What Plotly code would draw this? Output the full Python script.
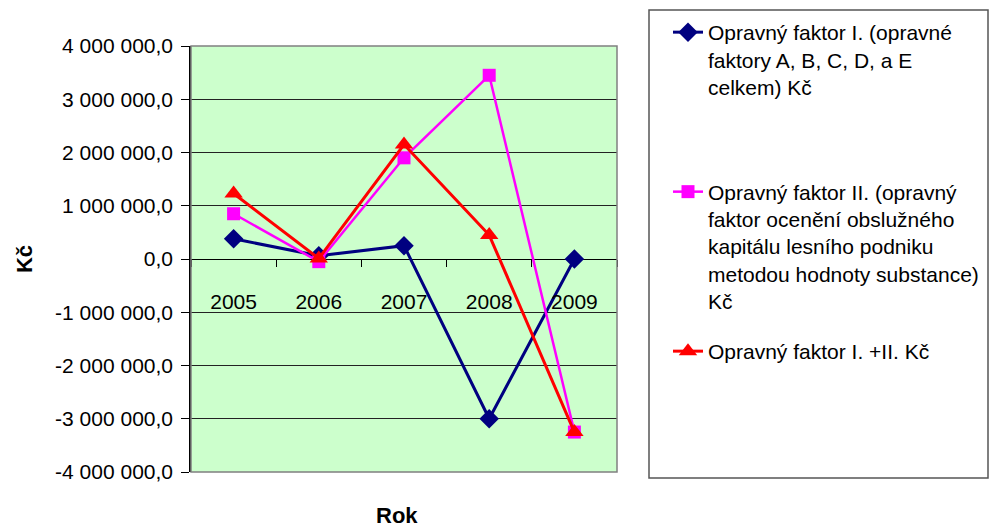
import plotly.graph_objects as go

years = ["2005", "2006", "2007", "2008", "2009"]
faktor_I = [380000, 60000, 250000, -3000000, 0]
faktor_II = [850000, -50000, 1900000, 3450000, -3250000]
faktor_I_II = [1230000, 10000, 2150000, 450000, -3250000]

names = [
    "Opravný faktor I. (opravné<br>faktory A, B, C, D, a E<br>celkem) Kč<br> <br> ",
    "Opravný faktor II. (opravný<br>faktor ocenění obslužného<br>kapitálu lesního podniku<br>metodou hodnoty substance)<br>Kč",
    "Opravný faktor I. +II. Kč",
]

y_tick_vals = [4000000, 3000000, 2000000, 1000000, 0, -1000000, -2000000, -3000000, -4000000]
y_tick_text = ["4 000 000,0", "3 000 000,0", "2 000 000,0", "1 000 000,0", "0,0",
               "-1 000 000,0", "-2 000 000,0", "-3 000 000,0", "-4 000 000,0"]

FONT = "Liberation Sans, Arial, sans-serif"
FS = 21

W, H = 990, 530
L, R, T, B = 191, 373, 46, 58
pw, ph = W - L - R, H - T - B

def px_x(x):
    return (x - L) / pw

def px_y(y):
    return (H - B - y) / ph

fig = go.Figure()
fig.add_trace(go.Scatter(x=years, y=faktor_I, name=names[0], mode="lines+markers",
                         line=dict(color="#000080", width=3),
                         marker=dict(symbol="diamond", size=15, color="#000080"),
                         legendgroup="a"))
fig.add_trace(go.Scatter(x=years, y=faktor_II, name=names[1], mode="lines+markers",
                         line=dict(color="#FF00FF", width=2.5),
                         marker=dict(symbol="square", size=13, color="#FF00FF"),
                         legendgroup="b"))
fig.add_trace(go.Scatter(x=years, y=faktor_I_II, name=names[2], mode="lines+markers",
                         line=dict(color="#FF0000", width=3),
                         marker=dict(symbol="triangle-up", size=16, color="#FF0000"),
                         legendgroup="c"))

fig.update_layout(
    width=W, height=H,
    margin=dict(l=L, r=R, t=T, b=B, autoexpand=False),
    paper_bgcolor="white",
    plot_bgcolor="#CCFFCC",
    font=dict(family=FONT, size=FS, color="black"),
    showlegend=True,
    legend=dict(x=px_x(668), y=px_y(12), xanchor="left", yanchor="top",
                bgcolor="rgba(0,0,0,0)", borderwidth=0, valign="top",
                traceorder="grouped", tracegroupgap=20, maxheight=520,
                font=dict(family=FONT, size=FS, color="black")),
    xaxis=dict(type="category", range=[-0.5, 4.5], anchor="free", position=0.5,
               showgrid=False, zeroline=False, showline=False,
               ticks="outside", ticklen=7, tickcolor="black", tickwidth=1,
               tickson="boundaries", ticklabelstandoff=28,
               tickfont=dict(family=FONT, size=FS, color="black")),
    yaxis=dict(range=[-4000000, 4000000], tickvals=y_tick_vals, ticktext=y_tick_text,
               showgrid=True, gridcolor="#222222", gridwidth=1,
               zeroline=True, zerolinecolor="black", zerolinewidth=1,
               showline=True, linecolor="black", linewidth=1.5,
               ticks="outside", ticklen=8, tickcolor="black",
               ticklabelstandoff=4,
               tickfont=dict(family=FONT, size=FS, color="black"),
               title=dict(text="<b>Kč</b>", standoff=16,
                          font=dict(family=FONT, size=22, color="black"))),
    shapes=[
        dict(type="rect", xref="paper", yref="paper", x0=0, x1=1, y0=0, y1=1,
             line=dict(color="#808080", width=1.5), layer="above"),
        dict(type="rect", xref="paper", yref="paper",
             x0=px_x(649), x1=px_x(988), y0=px_y(478), y1=px_y(10),
             line=dict(color="#555555", width=1.5), layer="above"),
    ],
    annotations=[
        dict(text="<b>Rok</b>", xref="paper", yref="paper", x=px_x(397), y=px_y(515),
             xanchor="center", yanchor="middle", showarrow=False,
             font=dict(family=FONT, size=22, color="black")),
    ],
)

fig.write_html("out.html")
